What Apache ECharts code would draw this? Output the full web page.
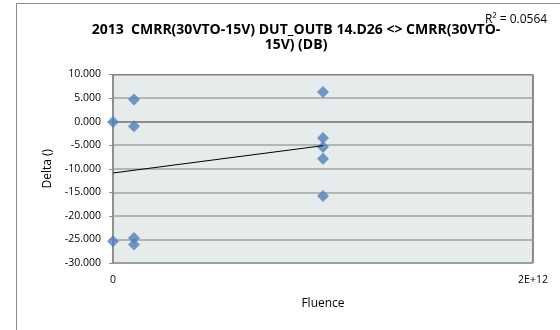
<!DOCTYPE html>
<html>
<head>
<meta charset="utf-8">
<script src="https://cdn.jsdelivr.net/npm/echarts@6/dist/echarts.min.js"></script>
<style>
  html, body { margin: 0; padding: 0; background: #fff; }
  #chart { width: 560px; height: 330px; }
</style>
</head>
<body>
<div id="chart"></div>
<script>
// fluence values (x) and matching deltas (y)
const fluence = [0, 0, 1e11, 1e11, 1e11, 1e11, 1e12, 1e12, 1e12, 1e12, 1e12];
const delta = [-0.1, -25.4, 4.7, -1.0, -24.7, -26.1, 6.3, -3.5, -5.4, -7.9, -15.8];

// linear trendline ends as drawn
const trendX = [0, 1e12];
const trendY = [-10.9, -5.1];

const yTicks = [-30, -25, -20, -15, -10, -5, 0, 5, 10];
const xTicks = [0, 2e12];
const xTickLabels = ["0", "2E+12"];

const chart = echarts.init(document.getElementById("chart"));

const options = {
  animation: false,
  textStyle: { fontFamily: "Open Sans" },
  title: {
    text: "2013  CMRR(30VTO-15V) DUT_OUTB 14.D26 <> CMRR(30VTO-\n15V) (DB)",
    left: 291,
    top: 18,
    textAlign: "center",
    textStyle: {
      fontFamily: "Open Sans",
      fontSize: 14,
      fontWeight: "bold",
      color: "#000",
      lineHeight: 15,
      align: "center",
    },
  },
  graphic: [
    {
      type: "rect",
      shape: { x: 16.5, y: 3.5, width: 700, height: 500 },
      style: { fill: null, stroke: "#8c8c8c", lineWidth: 1 },
      silent: true,
    },
    {
      type: "text",
      left: 485,
      top: 14,
      style: { text: "R\u00b2 = 0.0564", font: "12px 'Open Sans'", fill: "#000" },
      z: 10,
    },
  ],
  grid: {
    left: 113,
    right: 27,
    top: 74.5,
    bottom: 67,
    show: true,
    backgroundColor: "#e6ebeb",
    borderColor: "#222",
    borderWidth: 1,
  },
  xAxis: {
    type: "value",
    min: xTicks[0],
    max: xTicks[1],
    interval: xTicks[1] - xTicks[0],
    name: "Fluence",
    nameLocation: "middle",
    nameGap: 35,
    nameTextStyle: { fontSize: 12, color: "#000" },
    axisLine: { lineStyle: { color: "#8c8c8c", width: 2 } },
    axisTick: { show: true, length: 4, lineStyle: { color: "#8c8c8c" } },
    axisLabel: {
      fontSize: 10.5,
      color: "#000",
      margin: 12,
      formatter: (v) => xTickLabels[xTicks.indexOf(v)] ?? "",
    },
    splitLine: { show: false },
  },
  yAxis: {
    type: "value",
    min: yTicks[0],
    max: yTicks[yTicks.length - 1],
    interval: 5,
    name: "Delta ()",
    nameLocation: "middle",
    nameGap: 58,
    nameTextStyle: { fontSize: 12, color: "#000" },
    axisLine: { show: true, lineStyle: { color: "#8c8c8c", width: 1 } },
    axisTick: { show: true, length: 4, lineStyle: { color: "#8c8c8c" } },
    axisLabel: {
      fontSize: 10.5,
      color: "#000",
      margin: 12,
      formatter: (v) => v.toFixed(3),
    },
    splitLine: { lineStyle: { color: "#a3a3a3", width: 1.5 } },
  },
  series: [
    {
      name: "trend",
      type: "line",
      data: trendX.map((x, i) => [x, trendY[i]]),
      symbol: "none",
      lineStyle: { color: "#000", width: 1 },
      z: 3,
    },
    {
      name: "Delta",
      type: "scatter",
      data: fluence.map((x, i) => [x, delta[i]]),
      symbol: "diamond",
      symbolSize: [12, 12],
      itemStyle: { color: "#4f81bd" },
      z: 2,
    },
  ],
};

chart.setOption(options);
</script>
</body>
</html>
